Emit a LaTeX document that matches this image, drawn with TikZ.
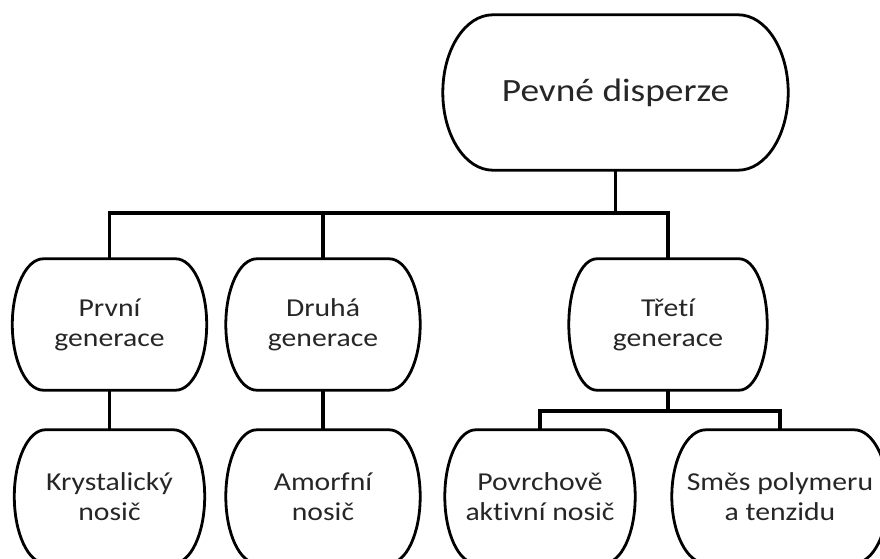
\documentclass[tikz,border=0pt]{standalone}
\usepackage{fontspec}
\setmainfont[FakeStretch=1.15,Ligatures=NoCommon]{Carlito}
\usetikzlibrary{calc}

\tikzset{
  boxline/.style={line width=2.8pt, line join=round},
  link/.style={line width=3.4pt, line join=miter},
  gen/.style={draw=none, align=center, text=black!85, inner sep=0pt,
    minimum width=#1, font=\fontsize{25.8}{30}\selectfont},
  root/.style={draw=none, align=center, text=black!85, inner sep=0pt,
    minimum width=345pt, minimum height=155pt, font=\fontsize{32.5}{38}\selectfont}
}

% outline of a box with bulging sides: node name, side depth
\newcommand{\genbox}[2]{%
  \draw [boxline] let \p1=(#1.north west), \p2=(#1.south east) in
    (\x1+#2,\y1) -- (\x2-#2,\y1)
    arc [start angle=90, end angle=-90, x radius=#2, y radius={(\y1-\y2)/2}]
    -- (\x1+#2,\y2)
    arc [start angle=270, end angle=90, x radius=#2, y radius={(\y1-\y2)/2}]
    -- cycle;%
}

\begin{document}
\begin{tikzpicture}[x=1pt,y=1pt]
                        \useasboundingbox (0,0) rectangle (880,558);
                        \clip (0,0) rectangle (880,558);

                        % Marking box Pevne disperze
                        \node [root] (root) at (615.5,465.5) {Pevné disperze};%

                        % Marking boxes of the generations
                        \node [gen=194pt, minimum height=131pt] (prvni) at (109.5,233.5) {První\\generace};%
                        \node [gen=194pt, minimum height=131pt] (druha) at (323,233.5) {Druhá\\generace};%
                        \node [gen=198pt, minimum height=131pt] (treti) at (668,233.5) {Třetí\\generace};%

                        % Marking boxes of the carriers
                        \node [gen=190pt, minimum height=133pt] (krystal) at (109.5,61.5) {Krystalický\\nosič};%
                        \node [gen=194pt, minimum height=133pt] (amorf) at (323,61.5) {Amorfní\\nosič};%
                        \node [gen=190pt, minimum height=133pt] (povrch) at (540,61.5) {Povrchově\\aktivní nosič};%
                        \node [gen=216pt, minimum height=133pt] (smes) at (780,61.5) {Směs polymeru\\a tenzidu};%

                        % Drawing outlines
                        \genbox{root}{50pt}
                        \genbox{prvni}{31pt}
                        \genbox{druha}{31pt}
                        \genbox{treti}{28pt}
                        \genbox{krystal}{31pt}
                        \genbox{amorf}{31pt}
                        \genbox{povrch}{31pt}
                        \genbox{smes}{34pt}

                        % Drawing bus lines
                        \coordinate (bus) at (0,345);%
                        \coordinate (bar) at (0,147);%

                        % Drawing line root - generations
                        \draw [link] (root.south) -- (root.south |- bus);%
                        \draw [link] (prvni.north) -- (prvni.north |- bus) -- (treti.north |- bus) -- (treti.north);%
                        \draw [link] (druha.north) -- (druha.north |- bus);%

                        % Drawing line generations - carriers
                        \draw [link] (prvni.south) -- (krystal.north);%
                        \draw [link] (druha.south) -- (amorf.north);%
                        \draw [link] (treti.south) -- (treti.south |- bar);%
                        \draw [link] (povrch.north) -- (povrch.north |- bar) -- (smes.north |- bar) -- (smes.north);%
                    \end{tikzpicture}
\end{document}
